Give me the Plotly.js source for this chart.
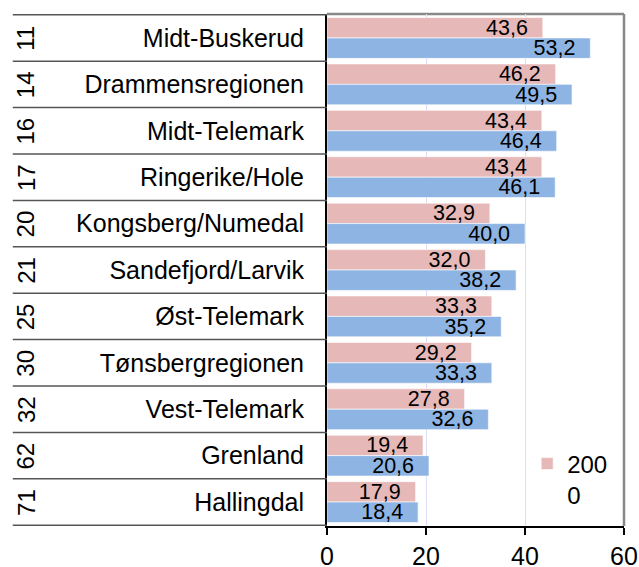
<!DOCTYPE html>
<html>
<head>
<meta charset="utf-8">
<script src="https://cdn.plot.ly/plotly-3.0.1.min.js"></script>
<style>html,body{margin:0;padding:0;background:#fff;}#chart{width:639px;height:567px;}</style>
</head>
<body>
<div id="chart"></div>
<script>
const regions = ["Midt-Buskerud","Drammensregionen","Midt-Telemark","Ringerike/Hole","Kongsberg/Numedal","Sandefjord/Larvik","Øst-Telemark","Tønsbergregionen","Vest-Telemark","Grenland","Hallingdal"];
const codes = ["11","14","16","17","20","21","25","30","32","62","71"];
const series2000 = [43.6,46.2,43.4,43.4,32.9,32.0,33.3,29.2,27.8,19.4,17.9];
const seriesOther = [53.2,49.5,46.4,46.1,40.0,38.2,35.2,33.3,32.6,20.6,18.4];
const xTicks = [0,20,40,60];

const FONT = "Liberation Sans, Arial, sans-serif";
const pad = "\u00a0\u00a0";

const traces = [
  {type:'bar', orientation:'h', name:'200<br>0', y:regions, x:series2000,
   marker:{color:'#e6b9b8', line:{color:'rgba(255,255,255,0.6)', width:1}},
   texttemplate:'%{x:.1f}'+pad, textposition:'inside', insidetextanchor:'end',
   constraintext:'none', textfont:{family:FONT, size:21.5, color:'#000'}, hoverinfo:'x+y'},
  {type:'bar', orientation:'h', name:'', showlegend:false, y:regions, x:seriesOther,
   marker:{color:'#8eb4e3', line:{color:'rgba(255,255,255,0.6)', width:1}},
   texttemplate:'%{x:.1f}'+pad, textposition:'inside', insidetextanchor:'end',
   constraintext:'none', textfont:{family:FONT, size:21.5, color:'#000'}, hoverinfo:'x+y'}
];

const shapes = [];
for (let i = 0; i <= regions.length; i++) {
  shapes.push({type:'line', xref:'paper', yref:'y', x0:-1.058, x1:0, y0:i-0.5, y1:i-0.5,
    line:{color:'#555', width:1.5}, layer:'above'});
}
shapes.push({type:'line', xref:'paper', yref:'paper', x0:0, x1:1, y0:1, y1:1, line:{color:'#888', width:2.5}, layer:'below'});
shapes.push({type:'line', xref:'paper', yref:'paper', x0:1, x1:1, y0:0, y1:1, line:{color:'#888', width:2.5}, layer:'below'});

const annotations = codes.map((c, i) => ({
  xref:'paper', yref:'y', x:-1.014, y:regions[i], text:c, showarrow:false,
  textangle:-90, font:{family:FONT, size:24, color:'#000'}, xanchor:'center', yanchor:'middle'
}));

const layout = {
  width:639, height:567,
  margin:{l:327, r:15, t:14, b:41, pad:0},
  paper_bgcolor:'#fff', plot_bgcolor:'#fff',
  font:{family:FONT, color:'#000'},
  barmode:'group', bargap:0.12, bargroupgap:0,
  separators:', ',
  xaxis:{range:[0,60], tickvals:xTicks, ticktext:xTicks.map(String), showgrid:true, gridcolor:'#dcdcf5', gridwidth:1,
    zeroline:false, showline:true, linecolor:'#000', linewidth:2, ticks:'outside', ticklen:7, tickwidth:2, tickcolor:'#000',
    tickfont:{family:FONT, size:25, color:'#000'}, ticklabelstandoff:0, fixedrange:true},
  yaxis:{type:'category', autorange:'reversed', showgrid:false, zeroline:false, showline:true, linecolor:'#000', linewidth:2,
    ticks:'', tickfont:{family:FONT, size:25, color:'#000'}, ticklabelstandoff:16, fixedrange:true},
  showlegend:true,
  legend:{x:0.674, y:0.165, xanchor:'left', yanchor:'top', bgcolor:'rgba(0,0,0,0)', font:{family:FONT, size:24, color:'#000'},
    valign:'top', traceorder:'normal'},
  shapes:shapes,
  annotations:annotations
};

Plotly.newPlot('chart', traces, layout, {displayModeBar:false, staticPlot:true});
</script>
</body>
</html>
